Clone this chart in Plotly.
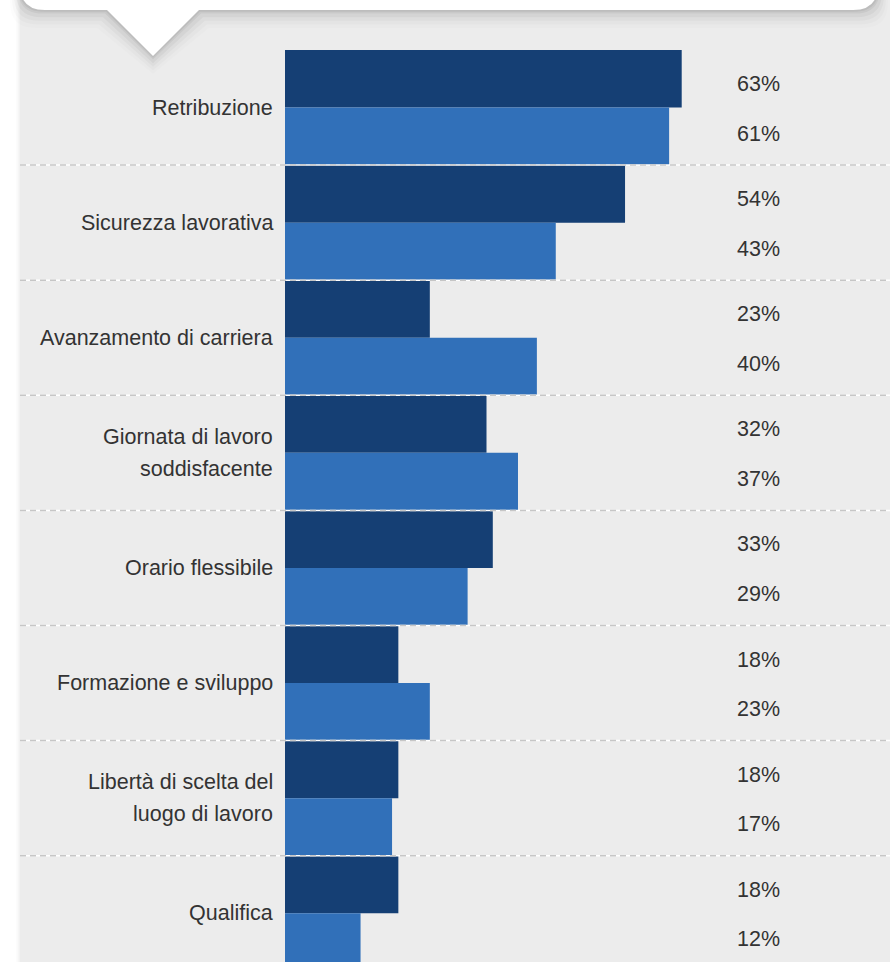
import plotly.graph_objects as go

categories = ["Retribuzione", "Sicurezza lavorativa", "Avanzamento di carriera",
              "Giornata di lavoro<br>soddisfacente", "Orario flessibile",
              "Formazione e sviluppo", "Libertà di scelta del<br>luogo di lavoro", "Qualifica"]
series_dark = [63, 54, 23, 32, 33, 18, 18, 18]
series_light = [61, 43, 40, 37, 29, 23, 17, 12]

W, H = 890, 962
L, R, T, B = 285, 0, 50, 0
PW, PH = W - L - R, H - T - B
GROUP_PX = 115.1
PX_PER_PCT = 6.297

DARK = "#153f74"
LIGHT = "#3170b9"
BG = "#ececec"
TXT = "#333333"
FONT = "Liberation Sans, Arial, sans-serif"
FS = 21.5

n = len(categories)
idx = list(range(n))

fig = go.Figure()
fig.add_trace(go.Bar(y=[i + 0.25 for i in idx], x=series_dark, orientation="h",
                     width=0.5, marker=dict(color=DARK, line=dict(width=0)),
                     hoverinfo="x", showlegend=False))
fig.add_trace(go.Bar(y=[i + 0.75 for i in idx], x=series_light, orientation="h",
                     width=0.5, marker=dict(color=LIGHT, line=dict(width=0)),
                     hoverinfo="x", showlegend=False))

def px_x(px):
    return (px - L) / PW

def px_y(py):
    return (H - B - py) / PH

shapes = []
# white left strip with soft shadow
shapes.append(dict(type="rect", xref="paper", yref="paper", x0=px_x(-5), x1=px_x(20),
                   y0=px_y(H + 5), y1=px_y(-5), fillcolor="white", line=dict(width=0), layer="below"))
for k, a in enumerate([0.05, 0.035, 0.02, 0.01]):
    shapes.append(dict(type="rect", xref="paper", yref="paper", x0=px_x(20 - k - 1), x1=px_x(20 - k),
                       y0=px_y(H + 5), y1=px_y(-5), fillcolor=f"rgba(0,0,0,{a})",
                       line=dict(width=0), layer="below"))

def callout_path(off=0.0, dy=0.0):
    x0, x1 = 20 - off, 878 + off
    yb = 10 + off + dy
    ytop = -40
    r = 25
    ax, ay = 153, 56 + off + dy
    bl, br = 107 - off, 199 + off
    pts = []
    pts.append(f"M {px_x(x0)},{px_y(ytop)}")
    pts.append(f"L {px_x(x0)},{px_y(yb - r)}")
    pts.append(f"Q {px_x(x0)},{px_y(yb)} {px_x(x0 + r)},{px_y(yb)}")
    pts.append(f"L {px_x(bl)},{px_y(yb)}")
    pts.append(f"L {px_x(ax)},{px_y(ay)}")
    pts.append(f"L {px_x(br)},{px_y(yb)}")
    pts.append(f"L {px_x(x1 - r)},{px_y(yb)}")
    pts.append(f"Q {px_x(x1)},{px_y(yb)} {px_x(x1)},{px_y(yb - r)}")
    pts.append(f"L {px_x(x1)},{px_y(ytop)} Z")
    return " ".join(pts)

for off, a in [(10, 0.012), (8, 0.02), (6, 0.028), (4, 0.038), (2, 0.05), (1, 0.06)]:
    shapes.append(dict(type="path", xref="paper", yref="paper", path=callout_path(off, off * 0.8),
                       fillcolor=f"rgba(0,0,0,{a})", line=dict(width=0), layer="below"))
shapes.append(dict(type="path", xref="paper", yref="paper", path=callout_path(0, 0),
                   fillcolor="white", line=dict(width=0), layer="below"))

# separators between groups
for i in range(1, n):
    shapes.append(dict(type="line", xref="paper", yref="y", x0=px_x(20), x1=1, y0=i, y1=i,
                       line=dict(color="white", width=1.5), layer="above"))
    shapes.append(dict(type="line", xref="paper", yref="y", x0=px_x(20), x1=1, y0=i, y1=i,
                       line=dict(color="#c6c6c6", width=1.5, dash="6px,4px"), layer="above"))

annotations = []
for i, cat in enumerate(categories):
    lines = cat.split("<br>")
    if len(lines) == 1:
        annotations.append(dict(xref="paper", yref="y", x=0, y=i + 0.5, xshift=-10,
                                xanchor="right", yanchor="middle", text=lines[0], showarrow=False,
                                font=dict(family=FONT, size=FS, color=TXT)))
    else:
        for j, ln in enumerate(lines):
            annotations.append(dict(xref="paper", yref="y", x=0, y=i + 0.5, xshift=-10,
                                    yshift=16 - 32 * j, xanchor="right", yanchor="middle",
                                    text=ln, showarrow=False,
                                    font=dict(family=FONT, size=FS, color=TXT)))
    annotations.append(dict(xref="x", yref="y", x=71.4, y=i + 0.296, xanchor="left",
                            yanchor="middle", text=f"{series_dark[i]}%", showarrow=False,
                            font=dict(family=FONT, size=FS, color=TXT)))
    annotations.append(dict(xref="x", yref="y", x=71.4, y=i + 0.726, xanchor="left",
                            yanchor="middle", text=f"{series_light[i]}%", showarrow=False,
                            font=dict(family=FONT, size=FS, color=TXT)))

fig.update_layout(
    width=W, height=H,
    margin=dict(l=L, r=R, t=T, b=B, pad=0),
    paper_bgcolor=BG, plot_bgcolor=BG,
    barmode="overlay",
    xaxis=dict(range=[0, PW / PX_PER_PCT], visible=False, fixedrange=True),
    yaxis=dict(range=[PH / GROUP_PX, 0], visible=False, fixedrange=True),
    shapes=shapes, annotations=annotations,
    showlegend=False,
)

fig.write_html("out.html", config={"displayModeBar": False})
